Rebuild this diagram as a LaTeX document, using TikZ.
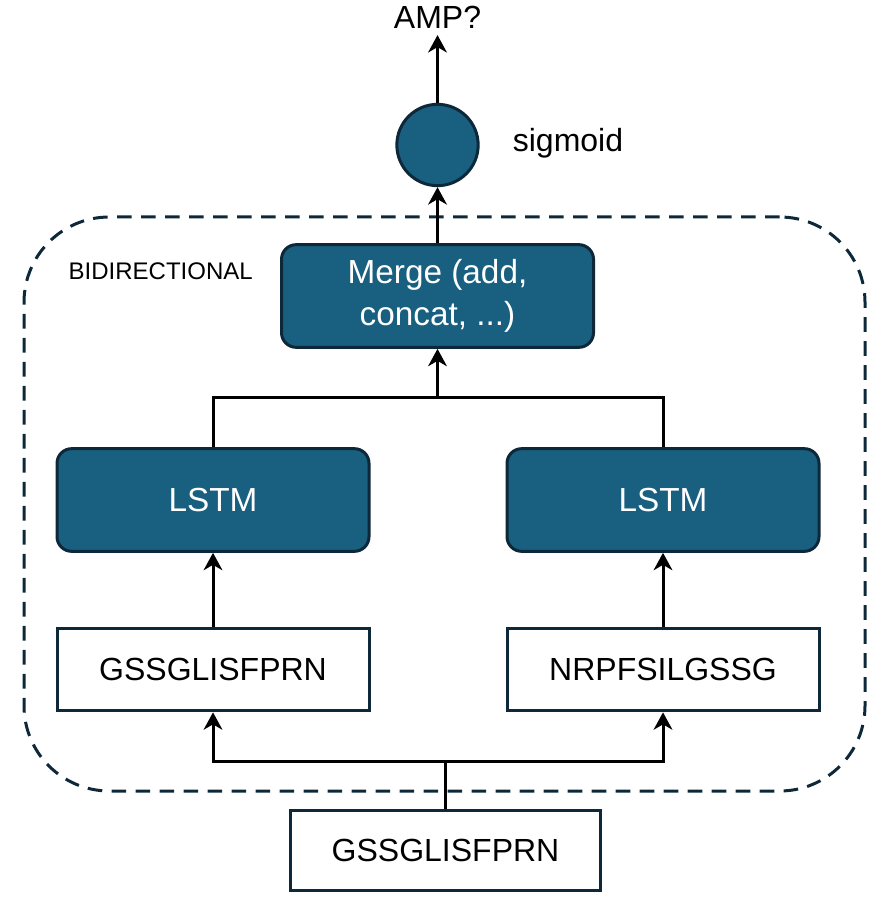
\documentclass[tikz,border=0pt]{standalone}
\usepackage{fontspec}
\setmainfont{Liberation Sans}
\usepackage{tikz}
\usetikzlibrary{arrows.meta}

\definecolor{blockfill}{RGB}{24,95,128}
\definecolor{blockline}{RGB}{13,40,56}

\begin{document}
\begin{tikzpicture}[x=0.75pt, y=-0.75pt,
	blockbox/.style={draw=blockline, fill=blockfill, line width=2.25pt, rounded corners=11pt,
		text=white, font=\fontsize{25}{31}\selectfont, align=center,
		minimum width=234pt, minimum height=77pt},
	seqbox/.style={draw=blockline, fill=white, line width=2.25pt,
		font=\fontsize{24}{30}\selectfont, minimum width=234pt, minimum height=62pt},
	conn/.style={line width=2.25pt},
	arr/.style={conn, -{Stealth[length=13pt, width=14pt, inset=4pt]}}]
	\useasboundingbox (0,0) rectangle (889,912);
	
	% dashed frame of the bidirectional part
	\node [draw=blockline, line width=2.25pt, dash pattern=on 11pt off 7pt, rounded corners=64pt,
		minimum width=630.75pt, minimum height=430.5pt] (bidir) at (444.5,504) {};
	\node [anchor=west, font=\fontsize{18}{22}\selectfont] (bidirlabel) at (64,271) {BIDIRECTIONAL};
	
	% blocks
	\node [blockbox] (merge) at (437.5,296) {Merge (add,\\concat, ...)};
	\node [blockbox] (lstmf) at (213,500) {LSTM};
	\node [blockbox] (lstmb) at (663,500) {LSTM};
	\node [seqbox] (fwd) at (213,669.5) {GSSGLISFPRN};
	\node [seqbox] (bwd) at (663,669.5) {NRPFSILGSSG};
	\node [seqbox, minimum width=233pt, minimum height=60pt] (seqin) at (445.5,850) {GSSGLISFPRN};
	
	% output
	\node [circle, draw=blockline, fill=blockfill, line width=2.25pt, minimum size=61pt] (sig) at (437.5,145) {};
	\node [font=\fontsize{24}{28}\selectfont] (siglabel) at (568,143) {sigmoid};
	\node [font=\fontsize{24}{28}\selectfont, inner sep=5pt] (amp) at (437.5,17) {AMP?};
	
	% connectors
	\coordinate (split) at (445.5,761);
	\coordinate (join) at (437.5,397);
	\draw [conn] (seqin.north) -- (split);
	\draw [arr] (split) -| (fwd.south);
	\draw [arr] (split) -| (bwd.south);
	\draw [arr] (fwd.north) -- (lstmf.south);
	\draw [arr] (bwd.north) -- (lstmb.south);
	\draw [conn] (lstmf.north) |- (join);
	\draw [conn] (lstmb.north) |- (join);
	\draw [arr] (join) -- (merge.south);
	\draw [arr] (merge.north) -- (sig.south);
	\draw [arr] (sig.north) -- (amp.south);
\end{tikzpicture}
\end{document}
